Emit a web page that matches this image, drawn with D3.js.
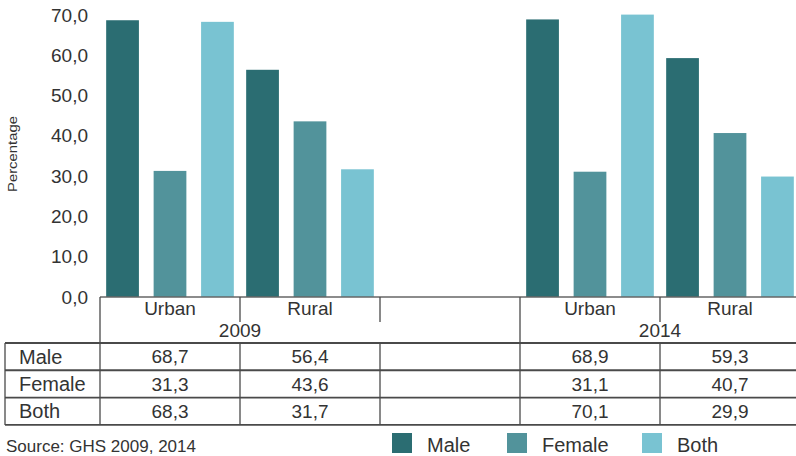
<!DOCTYPE html>
<html>
<head>
<meta charset="utf-8">
<script src="https://cdn.jsdelivr.net/npm/d3@7"></script>
<style>
  body { margin: 0; background: #fff; }
  svg { display: block; font-family: "Liberation Sans", Arial, sans-serif; }
</style>
</head>
<body>
<svg id="chart" width="796" height="456"></svg>
<script>
// data
const years = ["2009", "2014"];
const areas = ["Urban", "Rural"];
const series = ["Male", "Female", "Both"];
const male = [68.7, 56.4, 68.9, 59.3];
const female = [31.3, 43.6, 31.1, 40.7];
const both = [68.3, 31.7, 70.1, 29.9];
const yTicks = [0, 10, 20, 30, 40, 50, 60, 70];

const colors = { Male: "#2b6d72", Female: "#52939b", Both: "#79c3d2" };
const textCol = "#333";
const lineCol = "#4a4a4a";

const svg = d3.select("#chart");

// columns: 2009 urban, 2009 rural, empty, 2014 urban, 2014 rural
const cols = ["2009|Urban", "2009|Rural", "gap", "2014|Urban", "2014|Rural"];
const dataCols = ["2009|Urban", "2009|Rural", "2014|Urban", "2014|Rural"];
const values = { Male: male, Female: female, Both: both };

const x = d3.scaleBand().domain(cols).range([100, 800]);
const xi = d3.scaleBand().domain(series).range([0, x.bandwidth()])
  .paddingInner(0.31).paddingOuter(0.13);
const y = d3.scaleLinear().domain([0, 70]).range([297, 15]);

const fmt = v => d3.format(".1f")(v).replace(".", ",");

// y axis labels only
const yAxis = svg.append("g")
  .attr("transform", "translate(90,0)")
  .call(d3.axisLeft(y).tickValues(yTicks).tickSize(0).tickPadding(2).tickFormat(fmt));
yAxis.select(".domain").remove();
yAxis.selectAll("text")
  .attr("fill", textCol)
  .style("font-size", "19px")
  .style("font-family", "Liberation Sans, Arial, sans-serif");

svg.append("text")
  .attr("transform", "translate(17,154) rotate(-90)")
  .attr("text-anchor", "middle")
  .attr("fill", textCol)
  .attr("font-size", 13)
  .attr("textLength", 76)
  .attr("lengthAdjust", "spacingAndGlyphs")
  .text("Percentage");

// bars
const rows = [];
dataCols.forEach((c, i) => {
  series.forEach(s => rows.push({ col: c, s: s, v: values[s][i] }));
});
svg.append("g").selectAll("rect")
  .data(rows)
  .join("rect")
  .attr("x", d => x(d.col) + xi(d.s))
  .attr("y", d => y(d.v))
  .attr("width", xi.bandwidth())
  .attr("height", d => y(0) - y(d.v))
  .attr("fill", d => colors[d.s]);

// baseline
svg.append("line")
  .attr("x1", 100).attr("x2", 796)
  .attr("y1", y(0)).attr("y2", y(0))
  .attr("stroke", "#666").attr("stroke-width", 1.5);

// table geometry
const headTop = y(0), headMid = 322, tableTop = 343;
const rowH = 27.3;
const tableLeft = 5;
const grid = svg.append("g").attr("stroke", lineCol).attr("stroke-width", 1.9);

// header verticals
cols.forEach((c, i) => {
  const xx = x(c);
  const full = i === 0 || c === "2014|Urban";
  grid.append("line")
    .attr("x1", xx).attr("x2", xx)
    .attr("y1", headTop).attr("y2", full ? tableTop : headMid)
    .attr("stroke-width", 1.3);
});

// data table lines
for (let r = 0; r <= series.length; r++) {
  grid.append("line")
    .attr("x1", tableLeft).attr("x2", 796)
    .attr("y1", tableTop + r * rowH).attr("y2", tableTop + r * rowH);
}
[tableLeft].concat(cols.map(c => x(c))).forEach(xx => {
  grid.append("line")
    .attr("x1", xx).attr("x2", xx)
    .attr("y1", tableTop).attr("y2", tableTop + series.length * rowH)
    .attr("stroke-width", 1.3);
});

// header text
const head = svg.append("g").attr("fill", textCol).attr("font-size", 19).attr("text-anchor", "middle");
dataCols.forEach(c => {
  head.append("text")
    .attr("x", x(c) + x.bandwidth() / 2)
    .attr("y", 315)
    .text(c.split("|")[1]);
});
years.forEach(yr => {
  head.append("text")
    .attr("x", x(yr + "|Rural"))
    .attr("y", 337)
    .text(yr);
});

// table rows
const body = svg.append("g").attr("fill", textCol);
series.forEach((s, r) => {
  const cy = tableTop + r * rowH + rowH / 2;
  body.append("text")
    .attr("x", 19).attr("y", cy).attr("dy", "0.36em")
    .attr("font-size", 20)
    .text(s);
  dataCols.forEach((c, i) => {
    body.append("text")
      .attr("x", x(c) + x.bandwidth() / 2)
      .attr("y", cy).attr("dy", "0.36em")
      .attr("text-anchor", "middle")
      .attr("font-size", 19)
      .text(fmt(values[s][i]));
  });
});

// legend
const legX = [392, 507, 642];
const leg = svg.append("g");
series.forEach((s, i) => {
  leg.append("rect")
    .attr("x", legX[i]).attr("y", 433)
    .attr("width", 20).attr("height", 20)
    .attr("fill", colors[s]);
  leg.append("text")
    .attr("x", legX[i] + 35).attr("y", 452)
    .attr("fill", textCol)
    .attr("font-size", 20)
    .text(s);
});

// source (cut off at the bottom in the original; kept fully visible here)
svg.append("text")
  .attr("x", 6).attr("y", 452)
  .attr("fill", textCol)
  .attr("font-size", 17)
  .text("Source: GHS 2009, 2014");
</script>
</body>
</html>
